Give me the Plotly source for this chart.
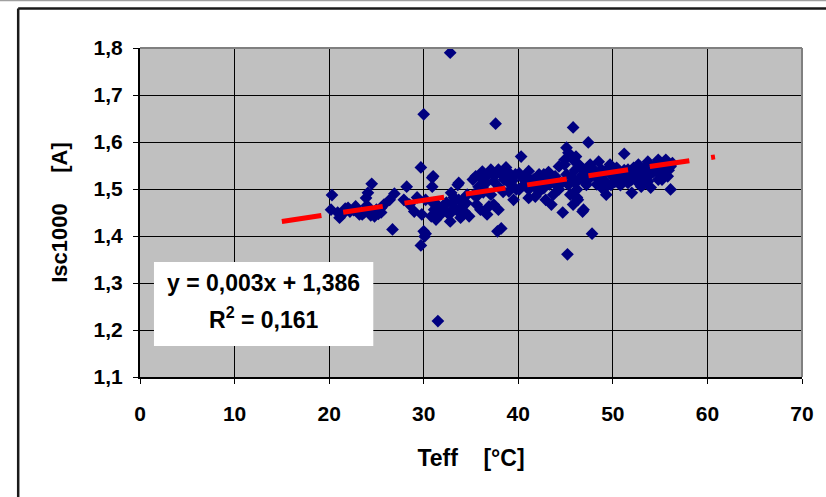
import plotly.graph_objects as go

# Measured module short-circuit current (normalised to 1000 W/m2) vs. effective cell temperature
teff = [
    32.8, 30.0, 37.6, 45.8, 47.4, 51.2, 40.3, 45.1, 45.2, 47.8, 29.7, 30.2, 26.7, 37.8, 38.2,
    56.1, 52.0, 49.3, 46.8, 44.7, 46.3, 31.5, 29.7, 31.0, 30.9, 28.2, 26.9, 33.6,
    20.3, 20.2, 20.9, 21.7, 22.8, 23.2, 23.9, 24.1, 24.5, 24.8, 25.5, 29.3,
    21.1, 22.2, 23.5, 25.0, 25.8, 26.4, 28.5, 29.0, 27.9, 22.6, 23.7, 24.4, 25.2, 24.0,
    30.9, 30.2, 29.8, 31.1, 30.8, 31.8, 32.4, 32.9, 33.2, 33.7, 34.1, 34.8, 30.0, 30.1,
    35.5, 36.2, 37.1, 37.9, 38.7, 39.0, 39.7, 35.8, 36.6, 37.4, 38.5, 35.6, 36.0, 36.9, 37.9,
    40.1, 41.1, 42.2, 43.2, 44.3, 44.9, 45.3, 46.1, 46.4, 47.6, 48.5, 48.8, 47.1,
    41.1, 41.8, 42.9, 43.5, 46.2, 46.9, 46.4, 44.6, 42.7, 49.8, 40.1, 45.6,
    51.6, 52.7, 53.7, 54.8, 55.6, 56.1, 55.8, 54.8, 53.7, 52.7, 51.6, 50.9, 52.2, 53.2,
    54.3, 55.3, 54.0, 53.0,
    48.0, 48.5, 48.9, 49.5, 50.0, 50.6, 49.7, 48.8,
    40.6, 41.6, 42.7, 43.7, 44.3, 43.7, 42.2, 41.1,
    44.9, 45.1, 45.3, 45.5, 45.8, 46.2, 46.6, 46.9, 47.2, 45.8,
    32.2, 32.7, 33.2, 33.7, 34.3, 34.6, 31.6, 31.3, 32.8, 33.9,
    35.3, 36.4, 37.1, 38.4, 39.2, 39.8, 39.5, 37.4, 35.6, 36.7,
    40.5, 41.3, 42.0, 42.6, 43.3, 43.9, 44.0, 41.8, 40.9, 43.0,
    46.0, 46.8, 47.5, 47.9, 48.3, 49.0, 49.3, 50.2, 47.0, 45.9, 47.7, 49.9, 50.4,
    51.0, 51.4, 52.0, 52.4, 53.0, 53.4, 53.9, 54.5, 55.0, 55.5, 55.9, 56.3, 54.6, 53.5,
    52.2, 51.2, 50.8, 55.2,
    35.2, 36.0, 36.8, 37.5, 38.2, 38.9, 39.4, 36.3, 38.0, 39.0,
    31.5, 32.0, 32.5, 33.0, 33.5, 34.0, 34.5, 31.0,
    21.5, 22.0, 23.0, 24.2, 25.5,
]
isc1000 = [
    1.790, 1.659, 1.639, 1.631, 1.599, 1.575, 1.569, 1.588, 1.361, 1.405, 1.380, 1.405, 1.414, 1.410, 1.416,
    1.499, 1.492, 1.488, 1.452, 1.450, 1.477, 1.219, 1.546, 1.527, 1.505, 1.505, 1.490, 1.509,
    1.487, 1.456, 1.450, 1.458, 1.463, 1.446, 1.481, 1.492, 1.511, 1.442, 1.450, 1.482,
    1.439, 1.452, 1.446, 1.456, 1.467, 1.477, 1.467, 1.452, 1.477, 1.455, 1.450, 1.444, 1.447, 1.465,
    1.524, 1.477, 1.446, 1.456, 1.442, 1.446, 1.471, 1.492, 1.482, 1.513, 1.463, 1.442, 1.410, 1.399,
    1.527, 1.537, 1.541, 1.541, 1.546, 1.535, 1.531, 1.505, 1.513, 1.516, 1.520, 1.484, 1.456, 1.463, 1.456,
    1.533, 1.538, 1.531, 1.536, 1.548, 1.562, 1.577, 1.569, 1.552, 1.552, 1.558, 1.541, 1.535,
    1.499, 1.484, 1.477, 1.467, 1.482, 1.456, 1.520, 1.513, 1.502, 1.509, 1.499, 1.527,
    1.541, 1.552, 1.558, 1.562, 1.562, 1.548, 1.527, 1.520, 1.516, 1.513, 1.513, 1.520, 1.531, 1.535,
    1.537, 1.541, 1.503, 1.505,
    1.541, 1.520, 1.531, 1.509, 1.537, 1.524, 1.552, 1.503,
    1.509, 1.520, 1.531, 1.520, 1.499, 1.488, 1.494, 1.481,
    1.552, 1.531, 1.509, 1.488, 1.467, 1.499, 1.524, 1.541, 1.509, 1.562,
    1.467, 1.446, 1.460, 1.477, 1.452, 1.488, 1.452, 1.435, 1.431, 1.439,
    1.488, 1.499, 1.488, 1.494, 1.509, 1.499, 1.477, 1.467, 1.467, 1.446,
    1.522, 1.515, 1.523, 1.515, 1.510, 1.527, 1.508, 1.505, 1.527, 1.525,
    1.540, 1.530, 1.522, 1.531, 1.510, 1.520, 1.540, 1.515, 1.518, 1.515, 1.542, 1.528, 1.545,
    1.530, 1.525, 1.520, 1.540, 1.525, 1.545, 1.530, 1.545, 1.530, 1.550, 1.540, 1.555, 1.553, 1.515,
    1.545, 1.540, 1.508, 1.520,
    1.520, 1.525, 1.530, 1.528, 1.532, 1.525, 1.518, 1.493, 1.503, 1.495,
    1.465, 1.455, 1.450, 1.470, 1.455, 1.475, 1.470, 1.470,
    1.448, 1.460, 1.455, 1.452, 1.460,
]

# Linear trend line (as stated in the equation box) and its drawn extent
trend_slope = 0.003
trend_intercept = 1.386
trend_r2 = 0.161
trend_x = [15.0, 60.8]

x_ticks = [0, 10, 20, 30, 40, 50, 60, 70]
y_ticks = [1.1, 1.2, 1.3, 1.4, 1.5, 1.6, 1.7, 1.8]
y_tick_labels = ["1,1", "1,2", "1,3", "1,4", "1,5", "1,6", "1,7", "1,8"]

FONT = "Arial, Liberation Sans, sans-serif"

fig = go.Figure()

fig.add_trace(go.Scatter(
    x=teff, y=isc1000, mode="markers",
    marker=dict(symbol="diamond", size=9.8, color="#000080", line=dict(width=0)),
    hoverinfo="x+y", showlegend=False,
))

trend_y = [trend_intercept + trend_slope * xv for xv in trend_x]
fig.add_trace(go.Scatter(
    x=trend_x, y=trend_y, mode="lines",
    line=dict(color="#FF0000", width=5, dash="40px,22px"),
    hoverinfo="skip", showlegend=False,
))

fig.update_layout(
    width=826, height=497,
    margin=dict(l=140, r=22, t=48, b=120),
    paper_bgcolor="white",
    plot_bgcolor="#C0C0C0",
    font=dict(family=FONT, size=18, color="black"),
    xaxis=dict(
        range=[0, 70], tickvals=x_ticks, ticktext=[f"<b>{v}</b>" for v in x_ticks],
        showgrid=True, gridcolor="black", gridwidth=1,
        showline=True, linecolor="black", linewidth=2,
        ticks="outside", ticklen=5, tickcolor="black", tickwidth=1,
        ticklabelstandoff=12,
        tickfont=dict(family=FONT, size=21),
        title=dict(text="<b>Teff    [°C]</b>", font=dict(family=FONT, size=23), standoff=26),
        zeroline=False,
    ),
    yaxis=dict(
        range=[1.1, 1.8], tickvals=y_ticks, ticktext=[f"<b>{t}</b>" for t in y_tick_labels],
        showgrid=True, gridcolor="black", gridwidth=1,
        showline=True, linecolor="black", linewidth=2,
        ticks="outside", ticklen=5, tickcolor="black", tickwidth=1,
        ticklabelstandoff=6,
        tickfont=dict(family=FONT, size=21),
        title=dict(text="<b>Isc1000     [A]</b>", font=dict(family=FONT, size=22), standoff=20),
        zeroline=False,
    ),
)

shapes = [
    # plot-area border on the top and right sides
    dict(type="line", xref="paper", yref="paper", x0=0, x1=1, y0=1, y1=1,
         line=dict(color="#808080", width=2), layer="above"),
    dict(type="line", xref="paper", yref="paper", x0=1, x1=1, y0=0, y1=1,
         line=dict(color="#808080", width=2), layer="above"),
    # chart frame
    dict(type="line", xref="paper", yref="paper", x0=-0.215, x1=1.05, y0=1.144, y1=1.144,
         line=dict(color="#A0A0A0", width=1.5)),
    dict(type="line", xref="paper", yref="paper", x0=-0.184, x1=1.05, y0=1.120, y1=1.120,
         line=dict(color="#1A1A1A", width=2.5)),
    dict(type="line", xref="paper", yref="paper", x0=-0.184, x1=-0.184, y0=1.120, y1=-0.40,
         line=dict(color="#1A1A1A", width=2.5)),
    # white box behind the trend equation
    dict(type="rect", xref="paper", yref="paper", x0=0.0211, x1=0.3524, y0=0.0942, y1=0.3495,
         fillcolor="white", line=dict(width=0), layer="above"),
]
fig.update_layout(shapes=shapes)

eq_text = f"<b>y = {trend_slope:.3f}x + {trend_intercept:.3f}</b>".replace(".", ",")
r2_text = f"<b>R<sup>2</sup> = {trend_r2:.3f}</b>".replace(".", ",")
fig.add_annotation(text=eq_text, xref="paper", yref="paper", x=0.1867, y=0.287,
                   showarrow=False, font=dict(family=FONT, size=23, color="black"),
                   xanchor="center", yanchor="middle")
fig.add_annotation(text=r2_text, xref="paper", yref="paper", x=0.1867, y=0.180,
                   showarrow=False, font=dict(family=FONT, size=23, color="black"),
                   xanchor="center", yanchor="middle")

fig.write_html("out.html")
